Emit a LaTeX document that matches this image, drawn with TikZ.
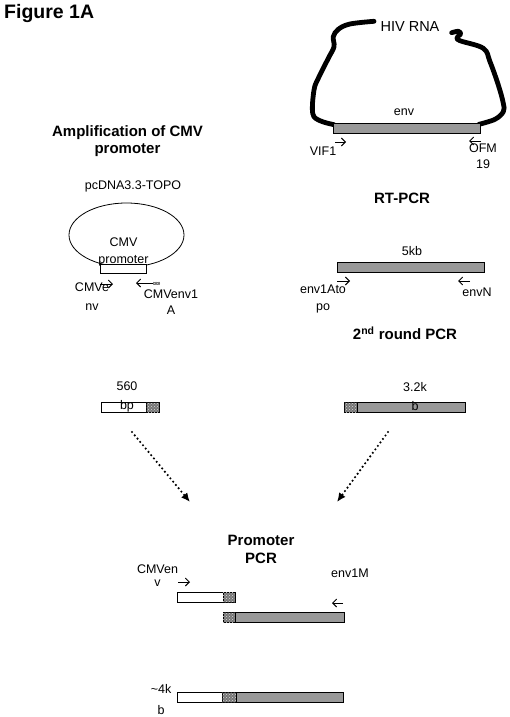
\documentclass[tikz,border=0pt]{standalone}
\usepackage{fontspec}
\setmainfont{Liberation Sans}
\usepackage{tikz}
\usetikzlibrary{arrows.meta,positioning,shapes.geometric,patterns,calc}

\definecolor{envgray}{RGB}{153,153,153}
\definecolor{ovlgray}{RGB}{118,118,118}

\tikzset{
  lbl/.style={font=\fontsize{12.5}{15}\selectfont,inner sep=0pt,align=center,anchor=base},
  hdr/.style={font=\fontsize{15}{17.5}\selectfont\bfseries,inner sep=0pt,align=center,anchor=base},
  seg/.style={draw,line width=0.8pt,minimum height=10.5pt,inner sep=0pt,outer sep=0pt,anchor=west},
  cmvseg/.style={seg,fill=white},
  envseg/.style={seg,fill=envgray},
  ovlseg/.style={seg,fill=ovlgray,postaction={pattern=crosshatch dots,pattern color=white!70!gray}},
  primer/.style={-{Straight Barb[length=4pt,width=8pt]},line width=0.9pt},
  rna/.style={line width=4.8pt,line cap=round,line join=round},
  joinarr/.style={-{Latex[length=9pt,width=8pt]},line width=2.4pt,line cap=round,
    dash pattern=on 0pt off 4.3pt}
}

\begin{document}
\begin{tikzpicture}[x=1pt,y=-1pt]
  \useasboundingbox (0,0) rectangle (510,717);

  \node[anchor=base west,inner sep=0pt,font=\fontsize{19.5}{22}\selectfont\bfseries] (fig) at (4,18.5) {Figure 1A};

  % HIV genome
  \draw[rna] plot[smooth,tension=0.6] coordinates {(374,21.3) (350,24) (338.3,29.3) (333.3,36.7)
    (334,46.7) (328.3,58.3) (318.3,78.3) (314,90) (312.7,113.3) (320,120.7) (334,124.7)};
  \draw[rna] plot[smooth,tension=0.6] coordinates {(451.7,32.7) (458.3,31.3) (460.7,34) (457.3,37.3)
    (460,40.7) (483.3,48.3) (490,61.7) (498.3,85) (503.3,103.3) (503.3,111.7) (495,119.3) (479,124.3)};
  \node[envseg,minimum width=147pt,minimum height=10pt] (envrna) at (333,128) {};
  \node[lbl,font=\fontsize{14.5}{17}\selectfont] (hiv) at (410,32) {HIV RNA};
  \node[lbl] (envlbl) at (404,115) {env};
  \node[lbl] (vif) at (323,155) {VIF1};
  \node[lbl] (ofm) at (483,168) {OFM\\[1pt]19};
  \draw[primer] (335,142) -- (346,142);
  \draw[primer] (481,141) -- (469,141);

  % CMV promoter from plasmid
  \node[hdr] (amp) at (127.5,153.5) {Amplification of CMV\\promoter};
  \node[lbl] (topo) at (133,189) {pcDNA3.3-TOPO};
  \node[ellipse,draw,line width=0.8pt,minimum width=115pt,minimum height=64pt] (plasmid) at (126.5,235) {};
  \node[cmvseg,minimum width=46pt,minimum height=9pt] (cmvbox) at (100,268.5) {};
  \node[lbl] (cmvlbl) at (123.5,263) {CMV\\[1.5pt]promoter};
  \node[lbl] (cmvf) at (92,310) {CMVe\\[3.5pt]nv};
  \node[lbl] (cmvr) at (171,314.5) {CMVenv1\\[1pt]A};
  \draw[primer] (100,284) -- (113,284);
  \fill[ovlgray] (153,281.8) rectangle (160,284.6);
  \fill[pattern=crosshatch dots,pattern color=white!70!gray] (153,281.8) rectangle (160,284.6);
  \draw[primer] (153,283) -- (136,283);

  % RT-PCR of env
  \node[hdr] (rt) at (402,203.5) {RT-PCR};
  \node[envseg,minimum width=147pt,minimum height=10pt] (rtbar) at (337,267) {};
  \node[lbl] (fivekb) at (412,255) {5kb};
  \node[lbl] (envf) at (323,310) {env1Ato\\[2pt]po};
  \node[lbl] (envn) at (477,296.5) {envN};
  \draw[primer] (337,281) -- (350,281);
  \draw[primer] (470,281) -- (458,281);
  \node[hdr] (second) at (405,339.5) {2\textsuperscript{nd} round PCR};

  % products
  \node[cmvseg,minimum width=45pt] (cmvprod) at (101,407.5) {};
  \node[ovlseg,minimum width=13pt,right=0pt of cmvprod] (cmvtail) {};
  \node[ovlseg,minimum width=13pt] (envhead) at (344,407.5) {};
  \node[envseg,minimum width=108pt,right=0pt of envhead] (envprod) {};
  \node[lbl] (bp) at (127,409.5) {560\\[4.5pt]bp};
  \node[lbl] (kb) at (415,410.5) {3.2k\\[4pt]b};

  \coordinate (fromcmv) at (132,432);
  \coordinate (tocmv) at (190,502);
  \coordinate (fromenv) at (388,432);
  \coordinate (toenv) at (337,502);
  \draw[joinarr] (fromcmv) -- (tocmv);
  \draw[joinarr] (fromenv) -- (toenv);

  % overlap PCR
  \node[hdr] (prom) at (261,563.2) {Promoter\\PCR};
  \node[cmvseg,minimum width=46pt] (pcmv) at (177,597.5) {};
  \node[ovlseg,minimum width=12pt,right=0pt of pcmv] (pcmvtail) {};
  \node[ovlseg,minimum width=12pt] (penvhead) at (223,617.5) {};
  \node[envseg,minimum width=109pt,right=0pt of penvhead] (penv) {};
  \node[lbl] (cmvenv) at (157.5,586.5) {CMVen\\[-1.5pt]v};
  \node[lbl] (env1m) at (350,577) {env1M};
  \draw[primer] (178,582) -- (190,582);
  \draw[primer] (343,603) -- (332,603);

  % fused product
  \node[cmvseg,minimum width=45pt] (fcmv) at (177,697.5) {};
  \node[ovlseg,minimum width=14pt,right=0pt of fcmv] (fovl) {};
  \node[envseg,minimum width=107pt,right=0pt of fovl] (fenv) {};
  \node[lbl] (fourkb) at (161,714) {\textasciitilde4k\\[6pt]b};
\end{tikzpicture}
\end{document}
